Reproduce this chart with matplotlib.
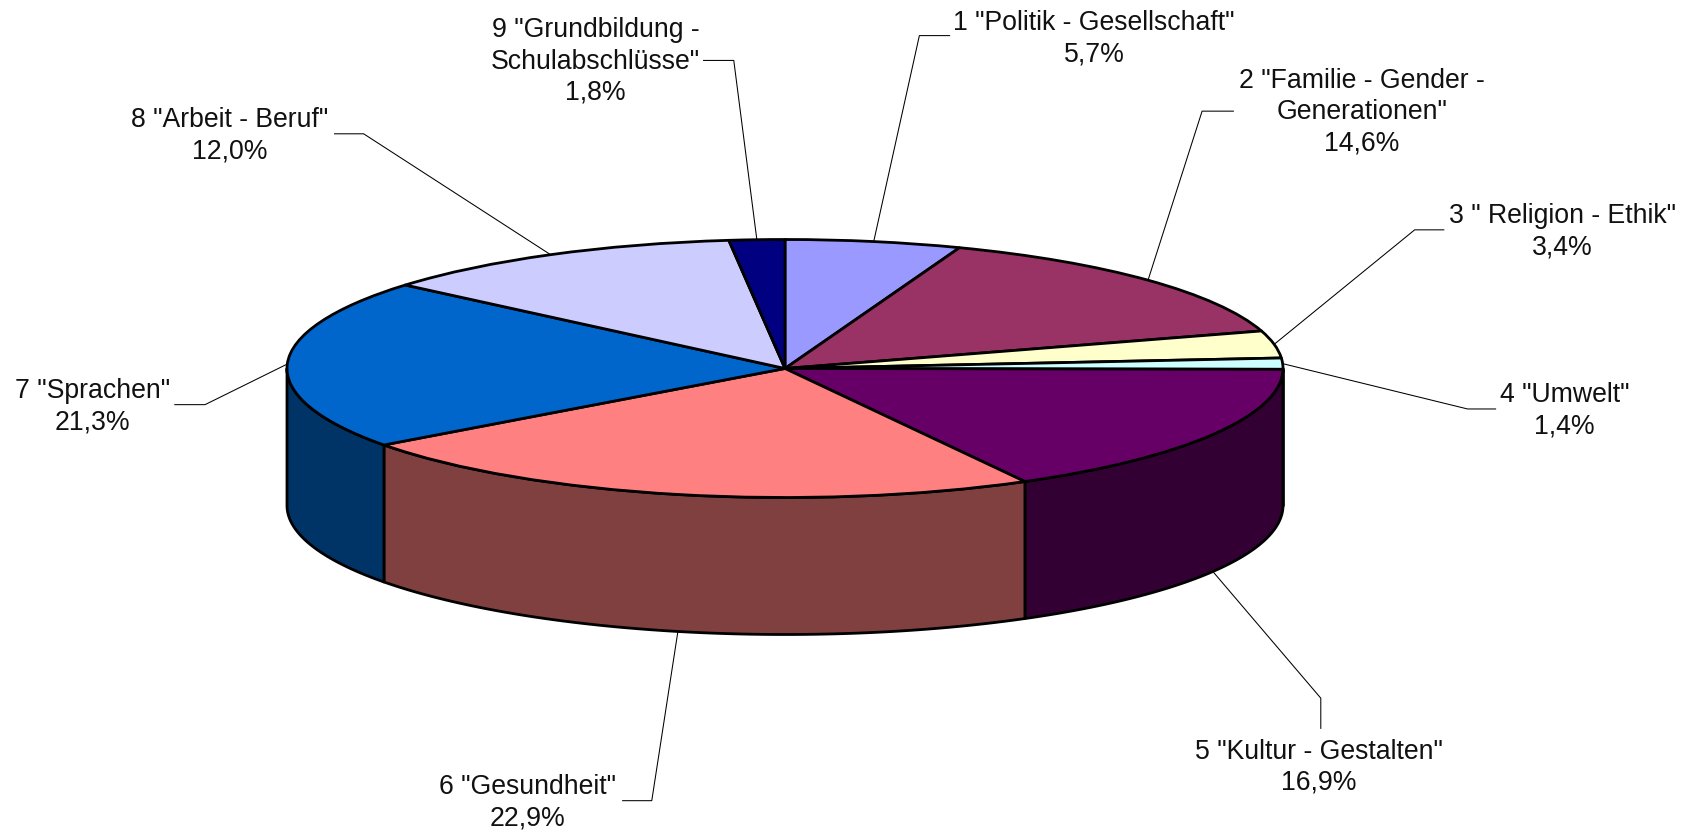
import numpy as np
import matplotlib
matplotlib.use("Agg")
import matplotlib.pyplot as plt

# ---- data ----
names = ['1 "Politik - Gesellschaft"', '2 "Familie - Gender -\nGenerationen"',
         '3 " Religion - Ethik"', '4 "Umwelt"', '5 "Kultur - Gestalten"',
         '6 "Gesundheit"', '7 "Sprachen"', '8 "Arbeit - Beruf"',
         '9 "Grundbildung -\nSchulabschlüsse"']
values = [5.7, 14.6, 3.4, 1.4, 16.9, 22.9, 21.3, 12.0, 1.8]
value_labels = ['5,7%', '14,6%', '3,4%', '1,4%', '16,9%', '22,9%', '21,3%', '12,0%', '1,8%']

# ---- style ----
top_colors = ['#9999FF', '#993366', '#FFFFCC', '#CCFFFF', '#660066',
              '#FF8080', '#0066CC', '#CCCCFF', '#000080']
side_colors = ['#4D4D80', '#4D1A33', '#808066', '#668080', '#330033',
               '#804040', '#003366', '#666680', '#000040']

# ---- layout (figure pixels) ----
W, H = 1692, 832
CX, CY, RX, RY, DEPTH = 785.0, 368.5, 498.0, 129.0, 137.0
S = 1692 / 1568
label_xy = [(1014, 36), (1262, 104), (1448, 215), (1450, 381), (1222, 711),
            (489, 744), (86, 377), (213, 126), (552, 57)]
elbows = [(852, 33), (1114, 103), (1311, 213), (1360, 379), (1224, 647),
          (604, 742), (190, 375), (337, 124), (680, 56)]
ends = [(880, 33), (1143, 103), (1338, 213), (1386, 379), (1224, 675),
        (577, 742), (162, 375), (310, 124), (652, 56)]

plt.rcParams['font.family'] = ['Liberation Sans', 'DejaVu Sans']
fig = plt.figure(figsize=(W / 100, H / 100), dpi=100)
ax = fig.add_axes([0, 0, 1, 1])


def px(x, y):
    """Shrunk-reference pixel position to unit-pie data coordinates."""
    return (x * S - CX) / RX, (CY - y * S) / RY


depth = DEPTH / RY
LW = 2.0
v = np.array(values, dtype=float)
fractions = v / v.sum()
edges = np.concatenate([[0], np.cumsum(fractions)]) * 2 * np.pi  # clockwise from top

# side wall, for the part of each slice on the front half of the ellipse
for i in range(len(v)):
    a0 = max(edges[i], np.pi / 2)
    a1 = min(edges[i + 1], 3 * np.pi / 2)
    if a1 <= a0:
        continue
    t = np.linspace(a0, a1, 120)
    xs = np.sin(t)
    ys = np.cos(t)
    ax.fill(np.r_[xs, xs[::-1]], np.r_[ys, ys[::-1] - depth],
            facecolor=side_colors[i], edgecolor='black', linewidth=LW,
            joinstyle='round', zorder=1)

wedges, _ = ax.pie(values, colors=top_colors, startangle=90, counterclock=False,
                   radius=1, center=(0, 0),
                   wedgeprops=dict(edgecolor='black', linewidth=LW, joinstyle='round'))
for w in wedges:
    w.set_zorder(2)

# leader lines and labels
mids = (edges[:-1] + edges[1:]) / 2
for i, m in enumerate(mids):
    sx, sy = np.sin(m), np.cos(m)
    if np.pi / 2 < m < 3 * np.pi / 2:
        sy -= depth
    ex, ey = px(*elbows[i])
    fx, fy = px(*ends[i])
    ax.plot([sx, ex, fx], [sy, ey, fy], color='black', lw=0.75, zorder=0.5,
            solid_joinstyle='miter')
    lx, ly = px(*label_xy[i])
    ax.text(lx, ly, names[i] + '\n' + value_labels[i], ha='center', va='center',
            multialignment='center', fontsize=19.2, color='#111111', linespacing=1.27,
            zorder=3)

ax.set_aspect('auto')
ax.set_xlim(-CX / RX, (W - CX) / RX)
ax.set_ylim((CY - H) / RY, CY / RY)
ax.axis('off')
fig.savefig('out.png', dpi=100, facecolor='white')
